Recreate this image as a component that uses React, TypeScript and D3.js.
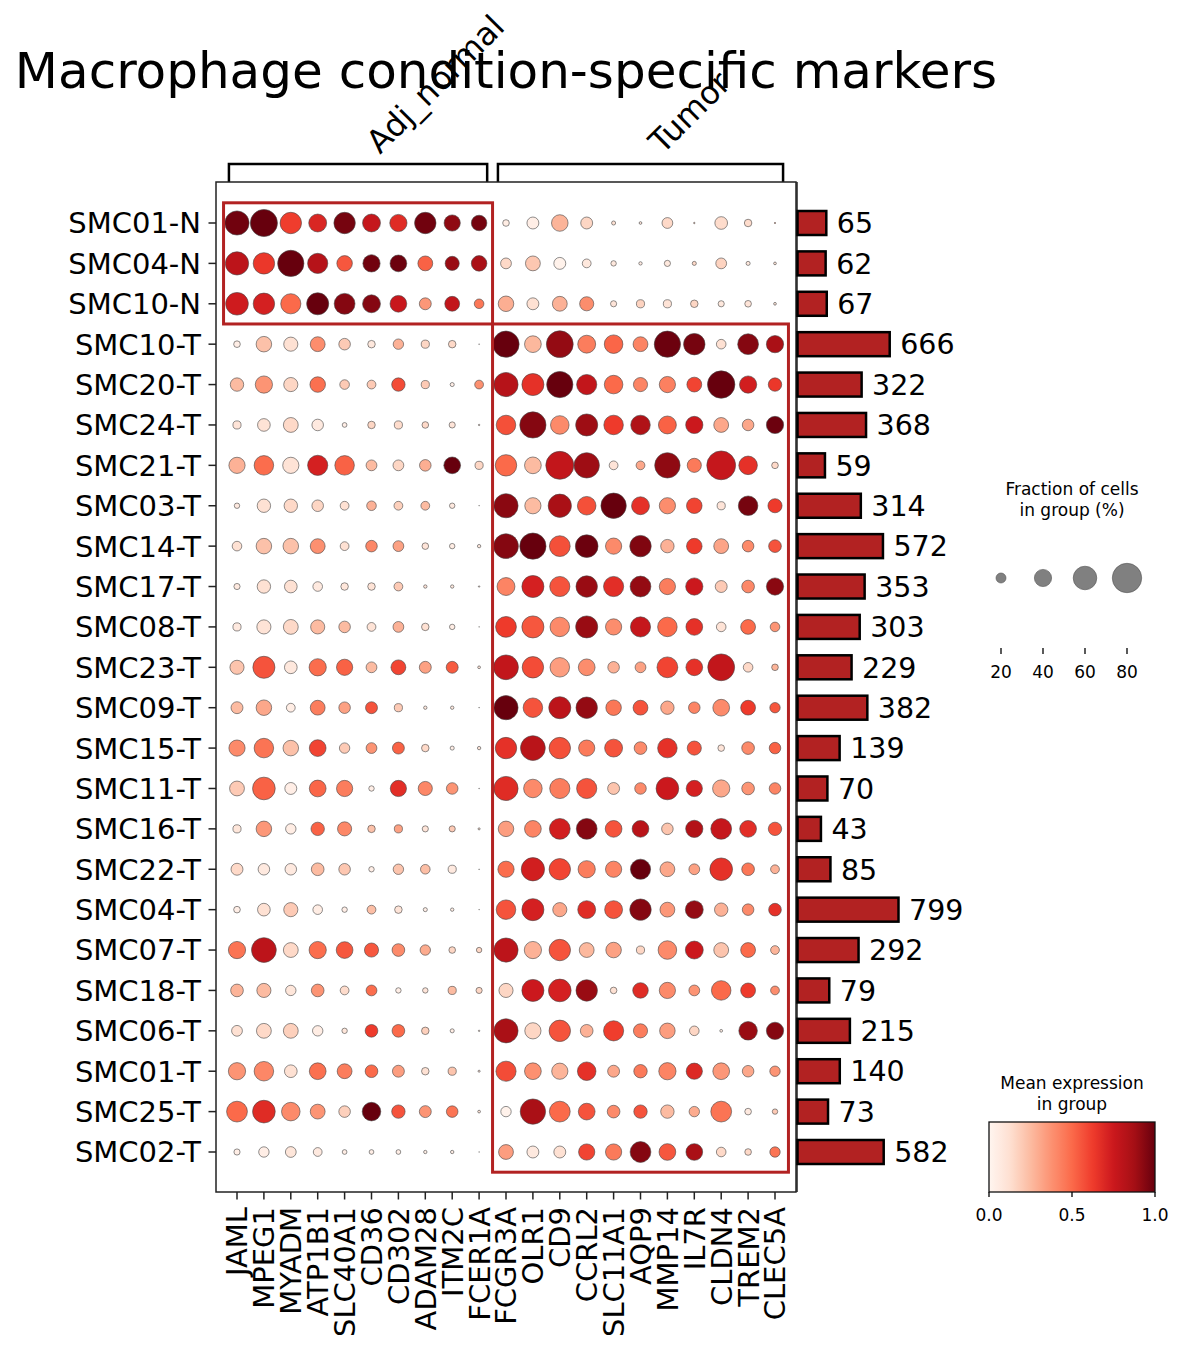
import React from "react";
import * as d3 from "d3";

const genes = ["JAML","MPEG1","MYADM","ATP1B1","SLC40A1","CD36","CD302","ADAM28","ITM2C","FCER1A","FCGR3A","OLR1","CD9","CCRL2","SLC11A1","AQP9","MMP14","IL7R","CLDN4","TREM2","CLEC5A"];
const geneGroups = [
  { label: "Adj_normal", start: 0, end: 9 },
  { label: "Tumor", start: 10, end: 20 },
];
const samples = ["SMC01-N","SMC04-N","SMC10-N","SMC10-T","SMC20-T","SMC24-T","SMC21-T","SMC03-T","SMC14-T","SMC17-T","SMC08-T","SMC23-T","SMC09-T","SMC15-T","SMC11-T","SMC16-T","SMC22-T","SMC04-T","SMC07-T","SMC18-T","SMC06-T","SMC01-T","SMC25-T","SMC02-T"];
const cellCounts = [65,62,67,666,322,368,59,314,572,353,303,229,382,139,70,43,85,799,292,79,215,140,73,582];

// fraction of cells expressing (%) per sample row, genes in order above
const fractionPct = [
  [62,72,53,42,53,42,40,53,37,35, 12,25,38,25,6.7,4.3,22,2.2,27,14,2],
  [59,53,69,49,35,40,38.5,33,31,35, 22,33,25,17,9.4,5.4,11,6.7,22,6.7,4.3],
  [57,53,49,55,51,42,38.5,25,33,19, 35,25,33,31,11,15.5,15.5,14,11,12,4.3],
  [12,35,31,33,24,14,21,15.5,14,1.2, 69,38.5,71,42,44,33,69,53,19,51,40],
  [29,40,31,35,19,17,29,15.5,6.7,17, 62,55,69,49,44,31,37,33,73,40,29],
  [15.5,27,33,24,8,14,15.5,12,11,2.2, 47,69,44,55,47,47,42,40,33,24,40],
  [37,47,37,49,47,22,22,24,38.5,15.5, 53,38.5,75,66,17,17,66,31,78,44,12],
  [9.4,29,29,24,17,19,17,17,9.4,1, 62,37,59,44,66,42,37,35,15.5,47,31],
  [19,35,35,33,17,24,22,12,9.4,5.4, 64,69,51,57,37,53,29,35,33,24,27],
  [11,29,27,19,14,14,17,5.4,5.4,2.2, 42,55,49,53,49,51,37,40,25,27,40],
  [15.5,31,33,31,24,17,22,14,9.4,0.5, 51,55,47,55,37,49,47,38.5,19,33,19],
  [31,55,27,40,37,22,33,25,25,4.3, 64,53,47,38.5,24,22,51,38.5,71,19,12],
  [25,35,17,33,24,25,15.5,5.4,5.4,1.2, 62,47,55,53,35,33,29,24,38.5,33,21],
  [37,47,35,38.5,21,22,25,14,6.7,5.4, 53,64,53,37,42,27,47,31,12,27,24],
  [33,57,25,38.5,37,9.4,37,31,24,1.2, 62,44,49,49,25,24,57,37,40,27,24],
  [15.5,35,21,29,31,14,15.5,11,11,3.2, 35,38.5,51,51,38.5,38.5,24,40,51,38.5,29],
  [25,24,24,27,24,9.4,21,19,15.5,1.2, 37,59,53,40,37,49,33,22,57,27,17],
  [12,27,31,19,9.4,17,14,6.7,5.4,1, 47,55,31,42,42,53,33,42,29,24,27],
  [40,64,33,40,38.5,31,27,21,12,9.4, 62,40,53,33,35,15.5,44,42,33,33,17],
  [27,31,21,27,17,22,9.4,9.4,15.5,11, 31,55,57,53,12,35,37,22,47,33,17],
  [22,33,33,21,9.4,27,27,14,6.7,2.2, 62,37,53,27,49,31,35,19,4.3,44,40],
  [40,47,27,38.5,33,27,25,14,15.5,3.2, 49,38.5,37,44,25,29,40,37,38.5,24,21],
  [51,57,44,33,24,44,29,25,24,4.3, 21,66,51,38.5,27,29,29,21,51,12,9.4],
  [11,21,22,17,8,8,8,5.4,5.4,1, 33,25,25,37,37,51,38.5,38.5,19,12,21],
];

// scaled mean expression (0-1) per sample row
const meanExpr = [
  [0.98,1.0,0.62,0.7,0.97,0.77,0.68,0.98,0.92,0.97, 0.05,0.04,0.27,0.16,0.12,0.1,0.15,0.2,0.14,0.14,0.3],
  [0.8,0.64,1.0,0.82,0.55,0.98,0.99,0.52,0.9,0.86, 0.15,0.21,0.02,0.08,0.08,0.06,0.08,0.15,0.17,0.08,0.1],
  [0.74,0.72,0.5,1.0,0.94,0.94,0.76,0.36,0.78,0.46, 0.29,0.12,0.28,0.39,0.1,0.17,0.11,0.16,0.08,0.1,0.1],
  [0.04,0.23,0.12,0.39,0.2,0.08,0.28,0.16,0.15,0.1, 1.0,0.26,0.91,0.44,0.51,0.42,0.99,0.97,0.12,0.94,0.86],
  [0.25,0.37,0.16,0.48,0.2,0.2,0.58,0.2,0.04,0.38, 0.82,0.66,1.0,0.78,0.5,0.42,0.43,0.6,1.0,0.73,0.64],
  [0.1,0.11,0.15,0.07,0.04,0.16,0.14,0.15,0.1,0.1, 0.57,0.94,0.4,0.89,0.63,0.84,0.52,0.75,0.31,0.31,0.99],
  [0.28,0.49,0.11,0.72,0.52,0.25,0.16,0.29,1.0,0.16, 0.5,0.25,0.78,0.89,0.1,0.31,0.92,0.45,0.77,0.66,0.15],
  [0.07,0.12,0.15,0.16,0.12,0.28,0.18,0.25,0.07,0.1, 0.93,0.25,0.86,0.57,1.0,0.66,0.39,0.6,0.1,0.97,0.63],
  [0.12,0.23,0.23,0.38,0.12,0.41,0.33,0.1,0.05,0.08, 0.94,1.0,0.57,0.99,0.4,0.95,0.28,0.63,0.32,0.4,0.56],
  [0.07,0.12,0.12,0.07,0.09,0.11,0.2,0.1,0.08,0.1, 0.42,0.72,0.56,0.9,0.67,0.91,0.44,0.75,0.2,0.41,0.93],
  [0.07,0.11,0.15,0.25,0.25,0.11,0.28,0.12,0.05,0.1, 0.63,0.55,0.4,0.9,0.39,0.77,0.5,0.66,0.11,0.5,0.37],
  [0.22,0.56,0.08,0.49,0.52,0.25,0.6,0.33,0.54,0.1, 0.78,0.58,0.34,0.39,0.28,0.33,0.6,0.66,0.78,0.15,0.27],
  [0.25,0.31,0.05,0.44,0.33,0.56,0.2,0.08,0.07,0.1, 1.0,0.56,0.8,0.91,0.46,0.56,0.31,0.42,0.4,0.63,0.55],
  [0.4,0.47,0.23,0.6,0.2,0.37,0.52,0.15,0.04,0.1, 0.66,0.81,0.57,0.45,0.56,0.4,0.66,0.56,0.1,0.4,0.52],
  [0.2,0.52,0.04,0.51,0.44,0.04,0.67,0.41,0.37,0.1, 0.68,0.4,0.44,0.56,0.22,0.4,0.75,0.72,0.31,0.37,0.42],
  [0.09,0.36,0.05,0.52,0.41,0.23,0.33,0.1,0.2,0.1, 0.34,0.42,0.73,0.94,0.56,0.81,0.22,0.83,0.77,0.67,0.56],
  [0.15,0.07,0.07,0.25,0.21,0.04,0.22,0.24,0.07,0.1, 0.49,0.73,0.6,0.44,0.42,1.0,0.31,0.33,0.66,0.46,0.28],
  [0.04,0.12,0.2,0.05,0.04,0.24,0.1,0.04,0.05,0.1, 0.56,0.72,0.31,0.68,0.56,0.94,0.36,0.91,0.28,0.4,0.66],
  [0.47,0.8,0.15,0.49,0.55,0.55,0.4,0.3,0.16,0.16, 0.8,0.28,0.56,0.26,0.33,0.16,0.4,0.75,0.22,0.5,0.27],
  [0.27,0.25,0.09,0.37,0.14,0.49,0.04,0.1,0.25,0.16, 0.16,0.75,0.72,0.9,0.12,0.68,0.4,0.37,0.5,0.63,0.39],
  [0.12,0.15,0.18,0.05,0.09,0.63,0.5,0.18,0.05,0.1, 0.86,0.16,0.56,0.28,0.62,0.44,0.34,0.16,0.04,0.9,0.94],
  [0.37,0.41,0.12,0.48,0.44,0.5,0.34,0.12,0.22,0.1, 0.58,0.38,0.27,0.66,0.31,0.45,0.42,0.69,0.36,0.31,0.37],
  [0.5,0.68,0.4,0.37,0.18,1.0,0.56,0.37,0.47,0.1, 0.02,0.86,0.5,0.56,0.4,0.56,0.25,0.3,0.47,0.07,0.2],
  [0.04,0.04,0.09,0.07,0.05,0.04,0.04,0.05,0.05,0.1, 0.34,0.07,0.12,0.6,0.45,0.94,0.55,0.86,0.15,0.15,0.47],
];

const sizeLegendValues = [20, 40, 60, 80];
const colorTicks = [0, 0.5, 1];
const highlightBlocks = [
  { rowStart: 0, rowEnd: 2, colStart: 0, colEnd: 9 },
  { rowStart: 3, rowEnd: 23, colStart: 10, colEnd: 20 },
];

const redsStops = ["#fff5f0","#fee0d2","#fcbba1","#fc9272","#fb6a4a","#ef3b2c","#cb181d","#a50f15","#67000d"];
const FONT = "DejaVu Sans, Liberation Sans, sans-serif";

export default function App() {
  const W = 1184, H = 1353;
  const x = d3.scaleLinear().domain([0, genes.length - 1]).range([237, 775]);
  const y = d3.scaleLinear().domain([0, samples.length - 1]).range([223, 1152]);
  const colStep = x(1) - x(0);
  const rowStep = y(1) - y(0);
  const color = d3.scaleLinear<string>()
    .domain(d3.range(redsStops.length).map((i) => i / (redsStops.length - 1)))
    .range(redsStops)
    .interpolate(d3.interpolateRgb)
    .clamp(true);
  const dotD = (f: number) => 30 * Math.pow(Math.min(f, 80) / 80, 0.75);
  const barX0 = 797;
  const barScale = d3.scaleSqrt().domain([0, 799]).range([0, 101]);

  const axL = 216, axR = 796, axT = 182, axB = 1192;

  const gradStops = d3.range(0, 1.0001, 0.02);

  return (
    <svg
      width={W}
      height={H}
      style={{ display: "block", position: "absolute", left: 0, top: 0, fontFamily: FONT }}
    >
      <defs>
        <linearGradient id="redsGrad" x1="0" x2="1" y1="0" y2="0">
          {gradStops.map((t) => (
            <stop key={t} offset={`${t * 100}%`} stopColor={color(t)} />
          ))}
        </linearGradient>
      </defs>
      <rect x={0} y={0} width={W} height={H} fill="#fff" />

      {/* title */}
      <text x={(axL + axR) / 2} y={88} fontSize={50} textAnchor="middle" fill="#000">
        Macrophage condition-specific markers
      </text>

      {/* group brackets */}
      {geneGroups.map((g) => {
        const l = x(g.start) - 0.3 * colStep;
        const r = x(g.end) + 0.3 * colStep;
        const cx = (l + r) / 2;
        return (
          <g key={g.label}>
            <path d={`M${l},${axT} V164 H${r} V${axT}`} fill="none" stroke="#000" strokeWidth={2.5} />
            <text
              transform={`translate(${cx + 22},${155}) rotate(-45)`}
              fontSize={32}
              fill="#000"
            >
              {g.label}
            </text>
          </g>
        );
      })}

      {/* dots */}
      {samples.map((s, ri) =>
        genes.map((g, ci) => {
          const f = fractionPct[ri][ci];
          const d = dotD(f);
          return (
            <circle
              key={`${s}-${g}`}
              cx={x(ci)}
              cy={y(ri)}
              r={Math.max(d / 2 - 0.3, 0.3)}
              fill={color(meanExpr[ri][ci])}
              stroke="#444"
              strokeWidth={0.6}
            />
          );
        })
      )}

      {/* highlight rectangles */}
      {highlightBlocks.map((b, i) => (
        <rect
          key={i}
          x={x(b.colStart) - colStep / 2}
          y={y(b.rowStart) - rowStep / 2}
          width={x(b.colEnd) - x(b.colStart) + colStep}
          height={y(b.rowEnd) - y(b.rowStart) + rowStep}
          fill="none"
          stroke="#b22222"
          strokeWidth={3}
        />
      ))}

      {/* main axes frame */}
      <rect x={axL} y={axT} width={axR - axL} height={axB - axT} fill="none" stroke="#222" strokeWidth={1.5} />

      {/* y ticks & labels */}
      {samples.map((s, ri) => (
        <g key={s}>
          <line x1={axL - 7.5} x2={axL} y1={y(ri)} y2={y(ri)} stroke="#222" strokeWidth={1.5} />
          <text x={axL - 15} y={y(ri)} dy="0.36em" fontSize={29} textAnchor="end" fill="#000">
            {s}
          </text>
        </g>
      ))}

      {/* x ticks & labels */}
      {genes.map((g, ci) => (
        <g key={g}>
          <line x1={x(ci)} x2={x(ci)} y1={axB} y2={axB + 7.5} stroke="#222" strokeWidth={1.5} />
          <text
            transform={`translate(${x(ci)},${axB + 15}) rotate(-90)`}
            dy="0.36em"
            fontSize={29}
            textAnchor="end"
            fill="#000"
          >
            {g}
          </text>
        </g>
      ))}

      {/* cell count bars */}
      <line x1={barX0} x2={barX0} y1={axT} y2={axB} stroke="#222" strokeWidth={1.5} />
      {samples.map((s, ri) => {
        const w = barScale(cellCounts[ri]);
        return (
          <g key={`bar-${s}`}>
            <rect
              x={barX0 + 0.5}
              y={y(ri) - 12}
              width={w}
              height={24}
              fill="#b22222"
              stroke="#000"
              strokeWidth={2.5}
            />
            <text x={barX0 + w + 11} y={y(ri)} dy="0.36em" fontSize={28.5} fill="#000">
              {cellCounts[ri]}
            </text>
          </g>
        );
      })}

      {/* size legend */}
      <text x={1072} y={495} fontSize={17} textAnchor="middle" fill="#000">Fraction of cells</text>
      <text x={1072} y={516} fontSize={17} textAnchor="middle" fill="#000">in group (%)</text>
      {sizeLegendValues.map((v, i) => {
        const cx = 1001 + i * 42;
        return (
          <g key={v}>
            <circle cx={cx} cy={578} r={dotD(v) / 2 - 0.3} fill="#808080" stroke="#555" strokeWidth={0.6} />
            <line x1={cx} x2={cx} y1={648} y2={654} stroke="#000" strokeWidth={1.3} />
            <text x={cx} y={678} fontSize={17} textAnchor="middle" fill="#000">{v}</text>
          </g>
        );
      })}

      {/* colorbar */}
      <text x={1072} y={1089} fontSize={17} textAnchor="middle" fill="#000">Mean expression</text>
      <text x={1072} y={1110} fontSize={17} textAnchor="middle" fill="#000">in group</text>
      <rect x={989} y={1122} width={166} height={70} fill="url(#redsGrad)" stroke="#111" strokeWidth={1.3} />
      {colorTicks.map((t) => {
        const cx = 989 + t * 166;
        return (
          <g key={t}>
            <line x1={cx} x2={cx} y1={1192} y2={1197} stroke="#000" strokeWidth={1.3} />
            <text x={cx} y={1221} fontSize={17} textAnchor="middle" fill="#000">{t.toFixed(1)}</text>
          </g>
        );
      })}
    </svg>
  );
}
